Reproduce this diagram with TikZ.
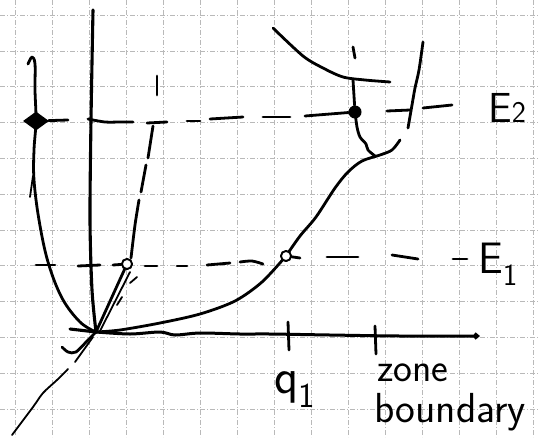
\documentclass[tikz,border=0pt]{standalone}
\usetikzlibrary{arrows.meta,shapes.geometric}
\begin{document}
\begin{tikzpicture}[x=1pt,y=-1pt,
  gridline/.style={gray!55, line width=0.5pt, dash pattern=on 5pt off 2pt on 1pt off 2pt},
  pen/.style={line width=2.8pt, line cap=round, line join=round},
  thinpen/.style={line width=1.8pt, line cap=round, line join=round},
  opendot/.style={circle, draw, fill=white, line width=1.8pt, inner sep=0pt, minimum size=10pt},
  lbl/.style={inner sep=0pt, font=\sffamily}]
\useasboundingbox[fill=white] (0,0) rectangle (540,437);
% grid paper
\foreach \i in {0,...,14} \draw[gridline] ({15+37*\i},0) -- ({15+37*\i},437);
\foreach \j in {0,...,11} \draw[gridline] (0,{15+35.8*\j}) -- (540,{15+35.8*\j});

% key points
\coordinate (O) at (96,332);
\coordinate (ytop) at (93,10);
\coordinate (xl) at (70,329);
\coordinate (xend) at (480,336);
\coordinate (t1a) at (288,322);
\coordinate (t1b) at (289,350);
\coordinate (t2a) at (375,326);
\coordinate (t2b) at (376,354);

% axes
\draw[pen, line width=3.1pt] plot[smooth] coordinates {(ytop) (91,120) (90,220) (92,290) (O)};
\draw[pen, line width=3.1pt] (xl) -- (O);
\draw[pen, line width=3pt, -{Straight Barb[length=3pt,width=5pt]}] plot[smooth] coordinates {(O) (130,334) (160,332) (175,335) (200,333) (240,334) (270,334) (330,335) (400,336) (xend)};
\draw[pen] (t1a) -- (t1b);
\draw[pen] (t2a) -- (t2b);

% marked points
\node[diamond, fill, inner sep=0pt, minimum width=26pt, minimum height=19pt] (D) at (36,121) {};
\node[circle, fill, inner sep=0pt, minimum size=13pt] (F) at (355,112) {};

% E2 level (dashed)
\draw[pen] (D) -- (68,120);
\draw[pen] plot[smooth] coordinates {(88,119) (105,122) (120,122) (133,122)};
\draw[pen] (147,123) -- (167,122);
\draw[pen] (187,121) -- (200,121);
\draw[pen] (210,119) -- (243,117);
\draw[pen] (263,117) -- (290,117);
\draw[pen] (305,116) -- (F);
\draw[pen] (387,111) -- (410,110);
\draw[pen] (423,108) -- (452,105);

% left parabola branch
\draw[pen] plot[smooth, tension=0.6] coordinates {(28,64) (32,57) (35,64) (35,90) (D) (34,150) (34,180) (39,220) (48,262) (62,298) (80,322) (O)};
\draw[thinpen] (33,176) -- (30,197);

% right (dashed) branch
\draw[pen] (157,76) -- (157,95);
\draw[pen] (153,126) -- (148,158);
\draw[pen] (146,165) -- (141,192);
\draw[pen] plot[smooth] coordinates {(139,200) (135,225) (131,258)};

\node[opendot] (C1) at (127,264) {};
\draw[pen] (C1) -- (O);
\draw[thinpen] (130,272) -- (100,331);
\draw[thinpen] (130,283) -- (137,277);
\draw[thinpen] (117,305) -- (122,297);

% below origin
\draw[pen] plot[smooth] coordinates {(O) (88,340) (76,352) (68,352) (62,347)};
\draw[thinpen] (93,337) -- (75,362);
\draw[thinpen] plot[smooth] coordinates {(68,369) (57,380) (43,393) (33,407) (12,435)};

% lower band through q1
\node[opendot] (C2) at (286,256) {};
\draw[pen] plot[smooth] coordinates {(O) (120,330) (160,323) (200,314) (235,301) (262,282) (C2)};
\draw[pen] plot[smooth] coordinates {(C2) (300,236) (316,217) (335,188) (348,172) (362,161) (380,155) (392,150) (400,140)};

% branch from E2 point
\draw[pen] plot[smooth] coordinates {(F) (357,127) (360,137) (366,144) (368,150) (375,156)};
\draw[pen] (F) -- (353,80);
\draw[pen] (353,47) -- (355,58);

% upper band
\draw[pen] plot[smooth] coordinates {(273,28) (303,56) (323,68) (343,77) (365,80) (390,82)};
\draw[pen] plot[smooth] coordinates {(423,42) (419,70) (415,88) (412,105) (408,128)};

% E1 level (dashed)
\draw[pen] (36,265) -- (55,265);
\draw[pen] (78,266) -- (100,265);
\draw[pen] (113,265) -- (C1);
\draw[pen] (145,266) -- (157,266);
\draw[pen] (177,266) -- (187,266);
\draw[pen] (207,265) -- (230,263);
\draw[pen] plot[smooth] coordinates {(240,262) (252,261) (263,264)};
\draw[pen] (C2) -- (300,258);
\draw[pen] (327,257) -- (358,257);
\draw[pen] (392,255) -- (418,259);
\draw[pen] (453,259) -- (467,259);
\node[opendot] at (C1) {};
\node[opendot] at (C2) {};

% labels
\node[lbl, anchor=base west, font=\sffamily\fontsize{44}{48}\selectfont] (E1) at (478,273) {E\textsubscript{1}};
\node[lbl, anchor=base west, font=\sffamily\fontsize{42}{46}\selectfont] (E2) at (488,122) {E{\fontsize{30}{32}\selectfont 2}};
\node[lbl, anchor=base west, font=\sffamily\fontsize{50}{54}\selectfont] (q1) at (274,393) {q\textsubscript{1}};
\node[lbl, anchor=base west, font=\sffamily\fontsize{40}{44}\selectfont] (zone) at (377,381) {zone};
\node[lbl, anchor=base west, font=\sffamily\fontsize{42}{46}\selectfont] (bnd) at (374,422) {boundary};
\end{tikzpicture}
\end{document}
